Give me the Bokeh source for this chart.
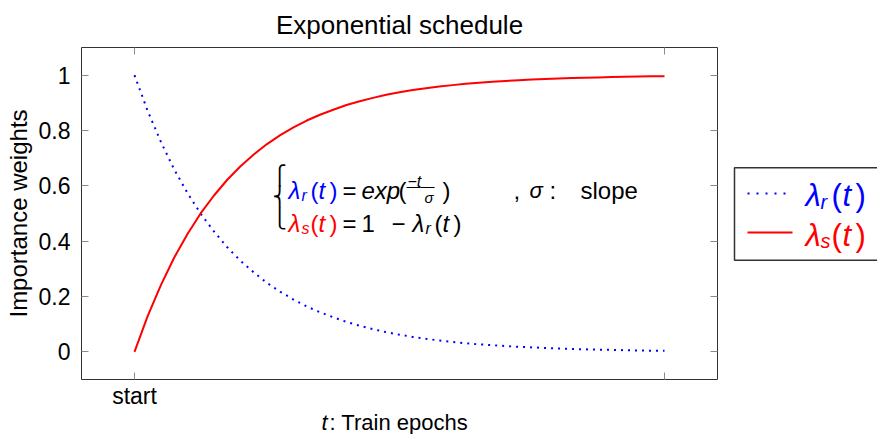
from bokeh.plotting import figure
from bokeh.models import (Range1d, FixedTicker, LinearAxis, Label,
                          CustomJSTickFormatter)
from bokeh.layouts import row, column
from bokeh.core.properties import value
from bokeh.embed import file_html
from bokeh.resources import INLINE

# ---------------- data ----------------
t_epochs = [0.000, 0.025, 0.050, 0.075, 0.100, 0.125, 0.150, 0.175, 0.200,
            0.225, 0.250, 0.275, 0.300, 0.325, 0.350, 0.375, 0.400, 0.425,
            0.450, 0.475, 0.500, 0.525, 0.550, 0.575, 0.600, 0.625, 0.650,
            0.675, 0.700, 0.725, 0.750, 0.775, 0.800, 0.825, 0.850, 0.875,
            0.900, 0.925, 0.950, 0.975, 1.000]
lambda_r = [1.000, 0.870, 0.758, 0.659, 0.574, 0.499, 0.435, 0.378, 0.329,
            0.287, 0.249, 0.217, 0.189, 0.164, 0.143, 0.125, 0.108, 0.094,
            0.082, 0.071, 0.062, 0.054, 0.047, 0.041, 0.036, 0.031, 0.027,
            0.024, 0.021, 0.018, 0.016, 0.014, 0.012, 0.010, 0.009, 0.008,
            0.007, 0.006, 0.005, 0.004, 0.004]
lambda_s = [0.000, 0.130, 0.242, 0.341, 0.426, 0.501, 0.565, 0.622, 0.671,
            0.713, 0.751, 0.783, 0.811, 0.836, 0.857, 0.875, 0.892, 0.906,
            0.918, 0.929, 0.938, 0.946, 0.953, 0.959, 0.964, 0.969, 0.973,
            0.976, 0.979, 0.982, 0.984, 0.986, 0.988, 0.990, 0.991, 0.992,
            0.993, 0.994, 0.995, 0.996, 0.996]
x_ticks = [0, 1]
x_tick_labels = {0: "start", 1: ""}
y_ticks = [0, 0.2, 0.4, 0.6, 0.8, 1]

FONT = "Liberation Sans"
BLUE = "#0000ff"
RED = "#ff0000"
DY = 7   # baseline correction for labels

# ---------------- main plot ----------------
FL, FR, FT, FB = 81, 717, 45, 379   # frame edges in page pixels
W_MAIN = 730
H_MAIN = 411

p = figure(width=W_MAIN, height=H_MAIN, output_backend="svg", toolbar_location=None,
           x_range=Range1d(-0.1, 1.1), y_range=Range1d(-0.1, 1.1),
           min_border_left=FL, min_border_right=W_MAIN - FR,
           min_border_top=FT, min_border_bottom=H_MAIN - FB)
p.grid.visible = False
p.outline_line_color = "#333333"
p.outline_line_width = 1

p.title.text = "Exponential schedule"
p.title.text_font = FONT
p.title.text_font_size = "26px"
p.title.text_font_style = "normal"
p.title.align = "center"
p.title.text_color = "black"
p.title.standoff = 15

def style_axis(ax):
    ax.axis_line_color = None
    ax.major_tick_in = 7
    ax.major_tick_out = 0
    ax.major_tick_line_color = "#8a8a8a"
    ax.minor_tick_line_color = None
    ax.major_label_text_font = FONT
    ax.major_label_text_font_size = "23px"
    ax.major_label_text_color = "black"

xa = p.xaxis[0]
xa.ticker = FixedTicker(ticks=x_ticks)
xa.major_label_overrides = x_tick_labels
style_axis(xa)
xa.major_label_standoff = 3

ya = p.yaxis[0]
ya.ticker = FixedTicker(ticks=y_ticks)
style_axis(ya)
ya.major_label_standoff = 11
ya.axis_label = "Importance weights"
ya.axis_label_text_font = FONT
ya.axis_label_text_font_size = "24px"
ya.axis_label_text_font_style = "normal"
ya.axis_label_text_color = "black"
ya.axis_label_standoff = 4

blank = CustomJSTickFormatter(code="return '';")
top_ax = LinearAxis(ticker=FixedTicker(ticks=x_ticks), formatter=blank)
style_axis(top_ax)
top_ax.major_label_standoff = 0
p.add_layout(top_ax, "above")
right_ax = LinearAxis(ticker=FixedTicker(ticks=y_ticks), formatter=blank)
style_axis(right_ax)
right_ax.major_label_standoff = 0
p.add_layout(right_ax, "right")

p.line(t_epochs, lambda_r, line_color=BLUE, line_width=2, line_dash="2 5")
p.line(t_epochs, lambda_s, line_color=RED, line_width=2)

def lab(fig, txt, X, Y, size, color="black", style="normal", font=FONT,
        baseline="alphabetic", align="left"):
    fig.add_layout(Label(x=X - FL, y=FB - (Y - DY), x_units="screen", y_units="screen",
                         text=txt, text_font=font, text_font_size=f"{size}px",
                         text_color=color, text_font_style=style,
                         text_baseline=baseline, text_align=align))

# equation block
for txt, Y in (("\u23a7", 181), ("\u23a8", 202.5), ("\u23a9", 224)):
    lab(p, txt, 272, Y, 19, font="DejaVu Sans", baseline="middle")
# line 1
lab(p, "\u03bb", 288, 197, 24, BLUE, "italic")
lab(p, "r", 301, 202, 16, BLUE, "italic")
lab(p, "(", 310, 197, 24, BLUE)
lab(p, "t", 318, 197, 24, BLUE, "italic")
lab(p, ")", 329, 197, 24, BLUE)
lab(p, "=", 342, 197, 24)
lab(p, "exp", 361, 197, 24, style="italic")
lab(p, "(", 398, 197, 24)
lab(p, "\u2212t", 407, 188, 16, style="italic")
lab(p, "\u2014\u2014", 406, 192, 14, baseline="middle")
lab(p, "\u03c3", 424, 204, 15, style="italic")
lab(p, ")", 442, 197, 24)
lab(p, ",", 513, 197, 24)
lab(p, "\u03c3", 529, 197, 22, style="italic")
lab(p, ":", 549, 197, 24)
lab(p, "slope", 580, 197, 24)
# line 2
lab(p, "\u03bb", 288, 230, 24, RED, "italic")
lab(p, "s", 301, 235, 16, RED, "italic")
lab(p, "(", 310, 230, 24, RED)
lab(p, "t", 318, 230, 24, RED, "italic")
lab(p, ")", 329, 230, 24, RED)
lab(p, "=", 342, 230, 24)
lab(p, "1", 361, 230, 24)
lab(p, "\u2212", 391, 230, 24)
lab(p, "\u03bb", 412, 230, 24, style="italic")
lab(p, "r", 425, 235, 16, style="italic")
lab(p, "(", 434, 230, 24)
lab(p, "t", 442, 230, 24, style="italic")
lab(p, ")", 453, 230, 24)

# ---------------- legend panel ----------------
W_LEG = 877 - W_MAIN
leg = figure(width=W_LEG, height=H_MAIN, output_backend="svg", toolbar_location=None,
             x_range=Range1d(W_MAIN, 877), y_range=Range1d(FB, FT),
             x_axis_type=None, y_axis_type=None,
             min_border=0, min_border_left=0, min_border_right=0,
             min_border_top=0, min_border_bottom=0)
leg.grid.visible = False
leg.outline_line_color = None
leg.quad(left=[734], right=[900], top=[166], bottom=[259],
         fill_color=None, line_color="#333333", line_width=1.5)
leg.line([747, 792], [192, 192], line_color=BLUE, line_width=2, line_dash="2 7")
leg.line([747, 792], [231, 231], line_color=RED, line_width=2)

def llab(txt, X, Y, size, color, style="normal"):
    leg.add_layout(Label(x=X, y=Y - DY, text=txt, text_font=FONT,
                         text_font_size=f"{size}px", text_color=color,
                         text_font_style=style, text_baseline="alphabetic"))

for name, color, Y in (("r", BLUE, 201), ("s", RED, 241)):
    llab("\u03bb", 805, Y, 31, color, "italic")
    llab(name, 820, Y + 6, 20, color, "italic")
    llab("(", 831, Y, 31, color)
    llab("t", 842, Y, 31, color, "italic")
    llab(")", 855, Y, 31, color)

# ---------------- x-axis title strip ----------------
strip = figure(width=877, height=434 - H_MAIN, output_backend="svg",
               toolbar_location=None,
               x_range=Range1d(0, 877), y_range=Range1d(434, H_MAIN),
               x_axis_type=None, y_axis_type=None,
               min_border=0, min_border_left=0, min_border_right=0,
               min_border_top=0, min_border_bottom=0)
strip.grid.visible = False
strip.outline_line_color = None

def slab(txt, X, Y, size, style="normal"):
    strip.add_layout(Label(x=X, y=Y - DY, text=txt, text_font=FONT,
                           text_font_size=f"{size}px", text_color="black",
                           text_font_style=style, text_baseline="alphabetic"))

slab("t", 321, 429, 22, "italic")
slab(": Train epochs", 329, 429, 22)

layout = column(row(p, leg), strip)
open("out.html", "w").write(file_html(layout, INLINE))
